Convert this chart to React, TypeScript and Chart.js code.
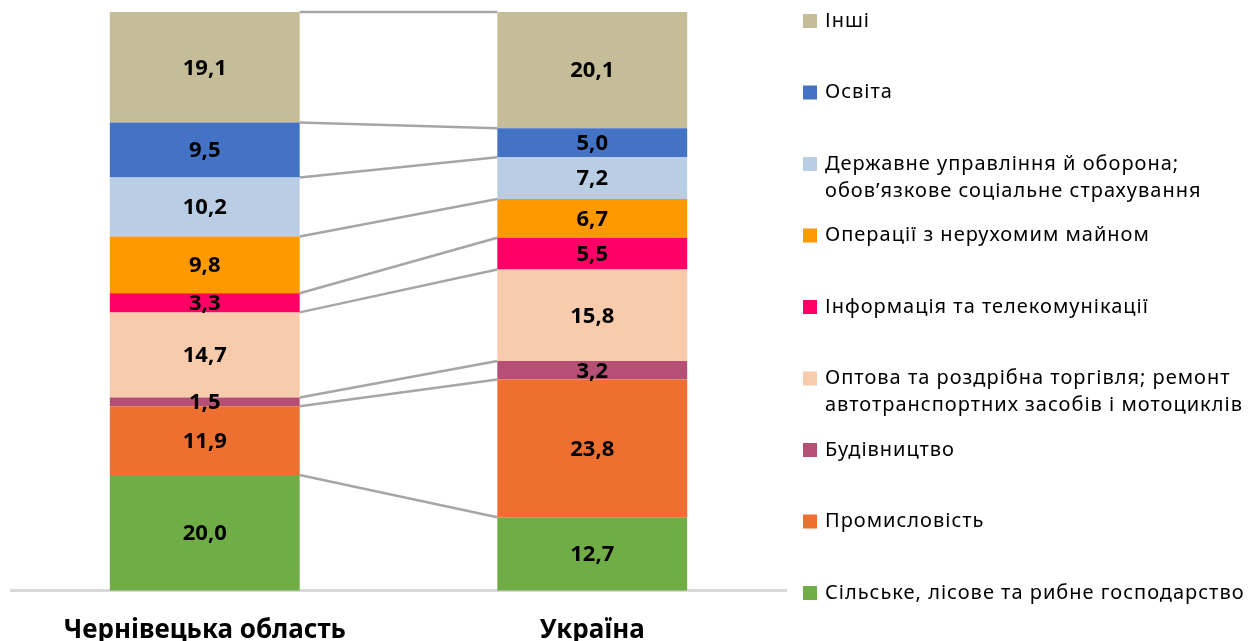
import React, { useEffect, useRef } from "react";
import { Chart, registerables } from "chart.js";

Chart.register(...registerables);

const categories = ["Чернівецька область", "Україна"];

// bottom-to-top stacking order
const seriesNames = [
  "Сільське, лісове та рибне господарство",
  "Промисловість",
  "Будівництво",
  "Оптова та роздрібна торгівля; ремонт автотранспортних засобів і мотоциклів",
  "Інформація та телекомунікації",
  "Операції з нерухомим майном",
  "Державне управління й оборона; обов’язкове соціальне страхування",
  "Освіта",
  "Інші",
];

const legendLines: string[][] = [
  ["Сільське, лісове та рибне господарство"],
  ["Промисловість"],
  ["Будівництво"],
  ["Оптова та роздрібна торгівля; ремонт", "автотранспортних засобів і мотоциклів"],
  ["Інформація та телекомунікації"],
  ["Операції з нерухомим майном"],
  ["Державне управління й оборона;", "обов’язкове соціальне страхування"],
  ["Освіта"],
  ["Інші"],
];

const agriculture = [20.0, 12.7];
const industry = [11.9, 23.8];
const construction = [1.5, 3.2];
const trade = [14.7, 15.8];
const ict = [3.3, 5.5];
const realEstate = [9.8, 6.7];
const publicAdmin = [10.2, 7.2];
const education = [9.5, 5.0];
const other = [19.1, 20.1];

const seriesValues = [agriculture, industry, construction, trade, ict, realEstate, publicAdmin, education, other];

const seriesColors = [
  "#70ad47",
  "#ed7031",
  "#b54f75",
  "#f8cbad",
  "#ff0066",
  "#ff9900",
  "#b9cde5",
  "#4472c4",
  "#c4bd97",
];

const FONT = "'Noto Sans', 'Open Sans', sans-serif";

const seriesLinesPlugin = {
  id: "seriesLines",
  beforeDatasetsDraw(chart: any) {
    const ctx = chart.ctx;
    ctx.save();
    ctx.strokeStyle = "#a6a6a6";
    ctx.lineWidth = 2.5;
    chart.data.datasets.forEach((_d: any, i: number) => {
      const meta = chart.getDatasetMeta(i);
      const a = meta.data[0] as any;
      const b = meta.data[1] as any;
      if (!a || !b) return;
      ctx.beginPath();
      ctx.moveTo(a.x + a.width / 2, a.y);
      ctx.lineTo(b.x - b.width / 2, b.y);
      ctx.stroke();
    });
    ctx.restore();
  },
};

const dataLabelsPlugin = {
  id: "segLabels",
  afterDatasetsDraw(chart: any) {
    const ctx = chart.ctx;
    ctx.save();
    ctx.fillStyle = "#000000";
    ctx.font = `bold 22px ${FONT}`;
    ctx.textAlign = "center";
    ctx.textBaseline = "middle";
    chart.data.datasets.forEach((ds: any, i: number) => {
      const meta = chart.getDatasetMeta(i);
      meta.data.forEach((el: any, j: number) => {
        const v = ds.data[j];
        const y = (el.y + el.base) / 2;
        ctx.fillText(v.toFixed(1).replace(".", ","), el.x, y + 1);
      });
    });
    ctx.restore();
  },
};

const customLegendPlugin = {
  id: "customLegend",
  afterDraw(chart: any) {
    const ctx = chart.ctx;
    ctx.save();
    ctx.font = `20px ${FONT}`;
    (ctx as any).letterSpacing = "1px";
    ctx.textAlign = "left";
    ctx.textBaseline = "middle";
    const n = legendLines.length;
    for (let k = 0; k < n; k++) {
      const idx = n - 1 - k; // top item is last dataset
      const cy = 21 + k * 71.5;
      ctx.fillStyle = seriesColors[idx];
      ctx.fillRect(803, cy - 7, 14, 14);
      ctx.fillStyle = "#000000";
      legendLines[idx].forEach((line, li) => {
        ctx.fillText(line, 825, cy + li * 27);
      });
    }
    ctx.restore();
  },
};

export default function App() {
  const canvasRef = useRef<HTMLCanvasElement | null>(null);

  useEffect(() => {
    document.body.style.margin = "0";
    const canvas = canvasRef.current;
    if (!canvas) return;
    const chart = new Chart(canvas, {
      type: "bar",
      data: {
        labels: categories,
        datasets: seriesNames.map((name, i) => ({
          label: name,
          data: seriesValues[i],
          backgroundColor: seriesColors[i],
          borderWidth: 0,
          barPercentage: 0.49,
          categoryPercentage: 1,
        })),
      },
      options: {
        responsive: false,
        animation: false,
        layout: { padding: { left: 11, right: 462, top: 12, bottom: -29 } },
        plugins: {
          legend: { display: false },
          tooltip: { enabled: false },
          title: { display: false },
        },
        scales: {
          x: {
            stacked: true,
            offset: true,
            grid: { display: false, drawTicks: false },
            border: { display: true, color: "#d9d9d9", width: 3 },
            ticks: {
              color: "#000000",
              padding: 24,
              font: { family: FONT, size: 26, weight: "bold" },
              maxRotation: 0,
            },
          },
          y: {
            stacked: true,
            min: 0,
            max: 100,
            display: false,
          },
        },
      },
      plugins: [seriesLinesPlugin, dataLabelsPlugin, customLegendPlugin],
    });
    return () => chart.destroy();
  }, []);

  return (
    <div style={{ width: 1248, height: 641, overflow: "hidden" }}>
      <canvas ref={canvasRef} width={1248} height={641} style={{ display: "block" }} />
    </div>
  );
}
